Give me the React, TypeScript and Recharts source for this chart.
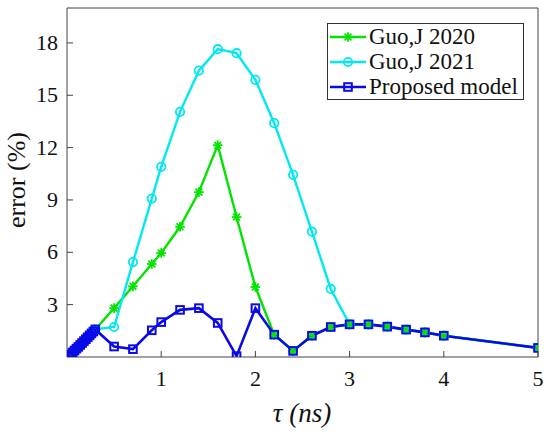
import { Line, LineChart, XAxis, YAxis } from 'recharts';

// tau (ns) sample points and error (%) for each model
const tauProposed = [
  0.02, 0.04, 0.06, 0.08, 0.1, 0.12, 0.14, 0.16, 0.18, 0.2, 0.22, 0.24, 0.26, 0.28, 0.3,
  0.5, 0.7, 0.9, 1.0, 1.2, 1.4, 1.6, 1.8, 2.0, 2.2, 2.4, 2.6, 2.8, 3.0, 3.2, 3.4, 3.6, 3.8, 4.0, 5.0,
];
const errProposed = [
  0.05, 0.15, 0.26, 0.37, 0.48, 0.58, 0.69, 0.8, 0.91, 1.02, 1.13, 1.24, 1.35, 1.46, 1.58,
  0.6, 0.45, 1.53, 2.0, 2.7, 2.8, 1.95, 0.05, 2.8, 1.28, 0.35, 1.22, 1.72, 1.87, 1.87, 1.74, 1.57, 1.41, 1.22, 0.52,
];

const tauGuo2020 = [
  0.02, 0.04, 0.06, 0.08, 0.1, 0.12, 0.14, 0.16, 0.18, 0.2, 0.22, 0.24, 0.26, 0.28, 0.3,
  0.5, 0.7, 0.9, 1.0, 1.2, 1.4, 1.6, 1.8, 2.0, 2.2, 2.4, 2.6, 2.8, 3.0, 3.2, 3.4, 3.6, 3.8, 4.0, 5.0,
];
const errGuo2020 = [
  0.05, 0.15, 0.26, 0.37, 0.48, 0.58, 0.69, 0.8, 0.91, 1.02, 1.13, 1.24, 1.35, 1.46, 1.58,
  2.8, 4.05, 5.33, 5.96, 7.46, 9.45, 12.14, 8.02, 4.01, 1.28, 0.35, 1.22, 1.72, 1.87, 1.87, 1.74, 1.57, 1.41, 1.22, 0.52,
];

const tauGuo2021 = [
  0.02, 0.04, 0.06, 0.08, 0.1, 0.12, 0.14, 0.16, 0.18, 0.2, 0.22, 0.24, 0.26, 0.28, 0.3,
  0.5, 0.7, 0.9, 1.0, 1.2, 1.4, 1.6, 1.8, 2.0, 2.2, 2.4, 2.6, 2.8, 3.0, 3.2, 3.4, 3.6, 3.8, 4.0, 5.0,
];
const errGuo2021 = [
  0.05, 0.15, 0.26, 0.37, 0.48, 0.58, 0.69, 0.8, 0.91, 1.02, 1.13, 1.24, 1.35, 1.46, 1.58,
  1.72, 5.44, 9.08, 10.9, 14.05, 16.41, 17.64, 17.41, 15.88, 13.4, 10.44, 7.18, 3.9, 1.87, 1.87, 1.74, 1.57, 1.41, 1.22, 0.52,
];

const xTicks = [1, 2, 3, 4, 5];
const yTicks = [3, 6, 9, 12, 15, 18];

const GREEN = '#00e400';
const CYAN = '#00e8f0';
const BLUE = '#0a0ae8';
const AXIS = '#444';
const FONT = '"Liberation Serif", "Times New Roman", serif';

const zip = (xs: number[], ys: number[]) => xs.map((t, i) => ({ tau: t, err: ys[i] }));

const guo2020 = zip(tauGuo2020, errGuo2020);
const guo2021 = zip(tauGuo2021, errGuo2021);
const proposed = zip(tauProposed, errProposed);

const TICK_IN = 6;

function BottomTick({ x, y, payload }: any) {
  return (
    <g>
      <line x1={x} x2={x} y1={y - 8} y2={y - 8 - TICK_IN} stroke={AXIS} strokeWidth={1} />
      <text x={x} y={y + 21} textAnchor="middle" fontFamily={FONT} fontSize={22} fill="#111">
        {payload.value}
      </text>
    </g>
  );
}

function LeftTick({ x, y, payload }: any) {
  return (
    <g>
      <line x1={x + 8} x2={x + 8 + TICK_IN} y1={y} y2={y} stroke={AXIS} strokeWidth={1} />
      <text x={x - 1} y={y + 7} textAnchor="end" fontFamily={FONT} fontSize={22} fill="#111">
        {payload.value}
      </text>
    </g>
  );
}

function TopTick({ x, y }: any) {
  return <line x1={x} x2={x} y1={y + 8} y2={y + 8 + TICK_IN} stroke={AXIS} strokeWidth={1} />;
}

function RightTick({ x, y }: any) {
  return <line x1={x - 8} x2={x - 8 - TICK_IN} y1={y} y2={y} stroke={AXIS} strokeWidth={1} />;
}

function Star({ cx, cy }: any) {
  if (cx == null || cy == null) return null;
  const r = 4.8;
  const d = r * 0.7071;
  return (
    <g stroke={GREEN} strokeWidth={1.8}>
      <line x1={cx - r} x2={cx + r} y1={cy} y2={cy} />
      <line x1={cx} x2={cx} y1={cy - r} y2={cy + r} />
      <line x1={cx - d} x2={cx + d} y1={cy - d} y2={cy + d} />
      <line x1={cx - d} x2={cx + d} y1={cy + d} y2={cy - d} />
    </g>
  );
}

function Ring({ cx, cy }: any) {
  if (cx == null || cy == null) return null;
  return <circle cx={cx} cy={cy} r={4.2} fill="none" stroke={CYAN} strokeWidth={1.8} />;
}

function Box({ cx, cy }: any) {
  if (cx == null || cy == null) return null;
  return <rect x={cx - 3.8} y={cy - 3.8} width={7.6} height={7.6} fill="none" stroke={BLUE} strokeWidth={2} />;
}

const legendItems = [
  { label: 'Guo,J 2020', color: GREEN, marker: 'star' },
  { label: 'Guo,J 2021', color: CYAN, marker: 'ring' },
  { label: 'Proposed model', color: BLUE, marker: 'box' },
];

function LegendBox() {
  return (
    <div
      style={{
        position: 'absolute',
        left: 327,
        top: 23,
        width: 194,
        height: 75,
        border: '1px solid #333',
        background: '#fff',
        padding: '0px 0px 0px 1px',
        fontFamily: FONT,
        fontSize: 23,
        lineHeight: '26px',
        color: '#111',
      }}
    >
      {legendItems.map((it) => (
        <div key={it.label} style={{ display: 'flex', alignItems: 'center', height: 25 }}>
          <svg width={38} height={14} style={{ marginRight: 2 }}>
            <line x1={1} x2={37} y1={7} y2={7} stroke={it.color} strokeWidth={2.4} />
            {it.marker === 'star' && <Star cx={19} cy={7} />}
            {it.marker === 'ring' && <Ring cx={19} cy={7} />}
            {it.marker === 'box' && <Box cx={19} cy={7} />}
          </svg>
          <span style={{ whiteSpace: 'nowrap' }}>{it.label}</span>
        </div>
      ))}
    </div>
  );
}

export default function App() {
  return (
    <div style={{ position: 'absolute', left: 0, top: 0, width: 550, height: 432, background: '#fff' }}>
      <LineChart width={550} height={432} margin={{ top: 7, right: 11, bottom: 74, left: 66 }}>
        <XAxis
          dataKey="tau"
          type="number"
          domain={[0, 5]}
          ticks={xTicks}
          height={1}
          tickSize={0}
          tickMargin={8}
          tickLine={false}
          tick={<BottomTick />}
          axisLine={{ stroke: AXIS, strokeWidth: 1 }}
          allowDataOverflow
        />
        <XAxis
          xAxisId="top"
          orientation="top"
          dataKey="tau"
          type="number"
          domain={[0, 5]}
          ticks={xTicks}
          height={1}
          tickSize={0}
          tickMargin={8}
          tickLine={false}
          tick={<TopTick />}
          axisLine={{ stroke: AXIS, strokeWidth: 1 }}
        />
        <YAxis
          dataKey="err"
          type="number"
          domain={[0, 20]}
          ticks={yTicks}
          width={1}
          tickSize={0}
          tickMargin={8}
          tickLine={false}
          tick={<LeftTick />}
          axisLine={{ stroke: AXIS, strokeWidth: 1 }}
          allowDataOverflow
        />
        <YAxis
          yAxisId="right"
          orientation="right"
          type="number"
          domain={[0, 20]}
          ticks={yTicks}
          width={1}
          tickSize={0}
          tickMargin={8}
          tickLine={false}
          tick={<RightTick />}
          axisLine={{ stroke: AXIS, strokeWidth: 1 }}
        />
        <Line
          data={guo2020}
          dataKey="err"
          name="Guo,J 2020"
          stroke={GREEN}
          strokeWidth={2.4}
          dot={<Star />}
          activeDot={false}
          isAnimationActive={false}
        />
        <Line
          data={guo2021}
          dataKey="err"
          name="Guo,J 2021"
          stroke={CYAN}
          strokeWidth={2.4}
          dot={<Ring />}
          activeDot={false}
          isAnimationActive={false}
        />
        <Line
          data={proposed}
          dataKey="err"
          name="Proposed model"
          stroke={BLUE}
          strokeWidth={2.6}
          dot={<Box />}
          activeDot={false}
          isAnimationActive={false}
        />
      </LineChart>
      <LegendBox />
      <div
        style={{
          position: 'absolute',
          left: 17,
          top: 180,
          transform: 'translate(-50%, -50%) rotate(-90deg)',
          fontFamily: FONT,
          fontSize: 26,
          whiteSpace: 'nowrap',
          color: '#111',
        }}
      >
        error (%)
      </div>
      <div
        style={{
          position: 'absolute',
          left: 302,
          top: 398,
          transform: 'translateX(-50%)',
          fontFamily: FONT,
          fontStyle: 'italic',
          fontSize: 27,
          whiteSpace: 'nowrap',
          color: '#111',
        }}
      >
        τ (ns)
      </div>
    </div>
  );
}
